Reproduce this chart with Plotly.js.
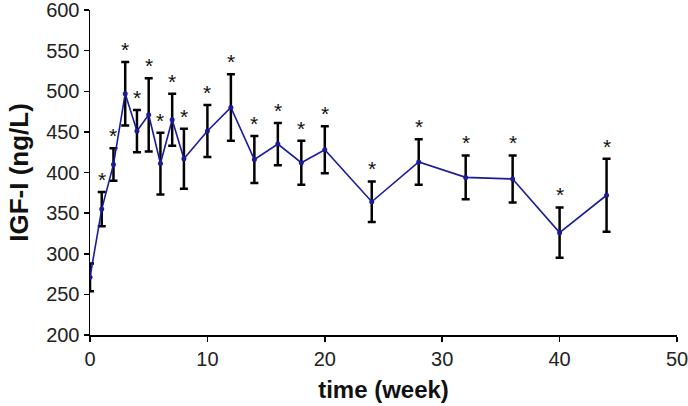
<!DOCTYPE html>
<html>
<head>
<meta charset="utf-8">
<script src="https://cdn.plot.ly/plotly-3.0.1.min.js"></script>
<style>html,body{margin:0;padding:0;background:#fff;}#chart{width:688px;height:406px;}</style>
</head>
<body>
<div id="chart"></div>
<script>
const weeks = [0, 1, 2, 3, 4, 5, 6, 7, 8, 10, 12, 14, 16, 18, 20, 24, 28, 32, 36, 40, 44];
const igf1  = [271, 355, 410, 497, 451, 471, 411, 465, 417, 451, 480, 416, 435, 412, 428, 364, 413, 394, 392, 326, 372];
const sem   = [17, 21, 20, 39, 26, 45, 38, 32, 37, 32, 41, 29, 26, 27, 29, 25, 28, 27, 29, 31, 45];
const significant = [false, true, true, true, true, true, true, true, true, true, true, true, true, true, true, true, true, true, true, true, true];
const xTicks = [0, 10, 20, 30, 40, 50];
const yTicks = [200, 250, 300, 350, 400, 450, 500, 550, 600];

const font = "Liberation Sans, Arial, sans-serif";

const trace = {
  x: weeks,
  y: igf1,
  type: 'scatter',
  mode: 'lines+markers',
  line: {color: '#1a1a9c', width: 1.6},
  marker: {color: '#1a1a9c', size: 5},
  error_y: {type: 'data', array: sem, visible: true, color: '#000000', thickness: 2.5, width: 4},
  showlegend: false,
  hoverinfo: 'x+y'
};

const annotations = [];
weeks.forEach((w, i) => {
  if (significant[i]) {
    annotations.push({
      x: w, y: igf1[i] + sem[i], xref: 'x', yref: 'y',
      text: '*', showarrow: false, yanchor: 'bottom', yshift: -1,
      font: {family: font, size: 21, color: '#111'}
    });
  }
});

const layout = {
  width: 688, height: 406,
  margin: {l: 90, r: 11, t: 10, b: 71},
  paper_bgcolor: '#fff', plot_bgcolor: '#fff',
  font: {family: font, color: '#000'},
  xaxis: {
    range: [0, 50], tickvals: xTicks, ticktext: xTicks.map(String),
    showgrid: false, zeroline: false, showline: true, linecolor: '#000', linewidth: 1.5,
    ticks: 'outside', ticklen: 5, tickwidth: 1.5, tickcolor: '#000',
    ticklabeloverflow: 'allow',
    tickfont: {family: font, size: 20, color: '#222'},
    title: {text: '<b>time (week)</b>', font: {family: font, size: 24, color: '#111'}, standoff: 12}
  },
  yaxis: {
    range: [200, 600], tickvals: yTicks, ticktext: yTicks.map(String),
    showgrid: false, zeroline: false, showline: true, linecolor: '#000', linewidth: 1.5,
    ticks: 'outside', ticklen: 5, tickwidth: 1.5, tickcolor: '#000',
    ticklabeloverflow: 'allow',
    tickfont: {family: font, size: 20, color: '#222'},
    title: {text: '<b>IGF-I (ng/L)</b>', font: {family: font, size: 26, color: '#111'}, standoff: 10}
  },
  annotations: annotations
};

Plotly.newPlot('chart', [trace], layout, {displayModeBar: false, staticPlot: true});
</script>
</body>
</html>
